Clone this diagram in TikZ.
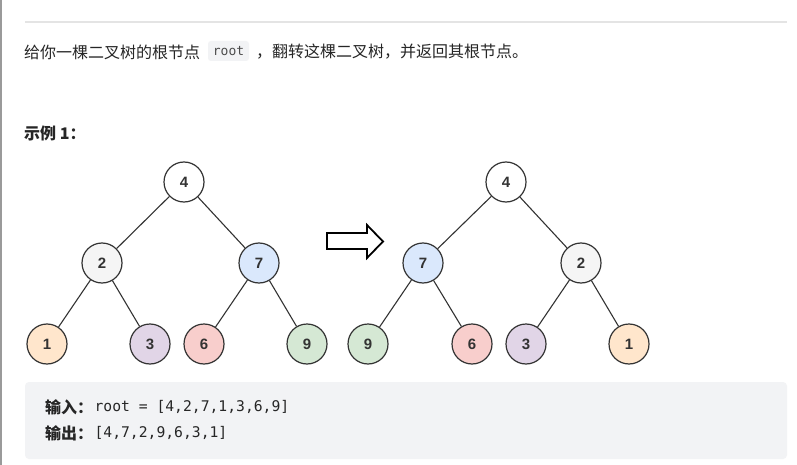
\documentclass[tikz,border=0pt]{standalone}
\usepackage{fontspec}
\setmainfont{Noto Sans CJK SC}
\newfontfamily\numfont{Liberation Sans}
\newfontfamily\codefont{DejaVu Sans Mono}
\definecolor{txt}{HTML}{262626}
\definecolor{edge}{HTML}{333333}
\definecolor{cwhite}{HTML}{FFFFFF}
\definecolor{cgray}{HTML}{F5F5F5}
\definecolor{cblue}{HTML}{DAE8FC}
\definecolor{corange}{HTML}{FFE6CC}
\definecolor{cpurple}{HTML}{E1D5E7}
\definecolor{cred}{HTML}{F8CECC}
\definecolor{cgreen}{HTML}{D5E8D4}
\definecolor{boxbg}{HTML}{F2F3F5}
\definecolor{rulegray}{HTML}{E4E4E4}
\definecolor{bordergray}{HTML}{9A9A9A}
\begin{document}
\begin{tikzpicture}[x=1pt,y=-1pt,
  tnode/.style={circle,draw=edge,line width=1.2pt,minimum size=40pt,inner sep=0pt,
    font=\numfont\bfseries\fontsize{15}{17}\selectfont,text=edge},
  tedge/.style={draw=edge,line width=1.1pt},
  body/.style={anchor=west,inner sep=0pt,text=txt,font=\fontsize{16}{19}\selectfont},
  codetxt/.style={anchor=west,inner sep=0pt,text=txt,font=\codefont\fontsize{14.7}{17}\selectfont}]
\useasboundingbox (0,0) rectangle (797,465);
\fill[white] (0,0) rectangle (797,465);
\fill[bordergray] (0,0) rectangle (2,465);
\draw[rulegray,line width=1.3pt] (25,22) -- (787,22);
% intro line
\node[body] (t1) at (24,52) {给你一棵二叉树的根节点};
\fill[boxbg,rounded corners=3pt] (208,41) rectangle (249,61);
\node[inner sep=0pt,text=black!70,font=\codefont\fontsize{13}{15}\selectfont] (code) at (228.5,51.5) {root};
\node[body] (t2) at (256,52) {，翻转这棵二叉树，并返回其根节点。};
\node[body,font=\bfseries\fontsize{16}{19}\selectfont] (ex) at (24,133) {示例 1：};
% left tree
\node[tnode,fill=cwhite] (a4) at (184,182) {4};
\node[tnode,fill=cgray] (a2) at (102,263) {2};
\node[tnode,fill=cblue] (a7) at (259,263) {7};
\node[tnode,fill=corange] (a1) at (47,344) {1};
\node[tnode,fill=cpurple] (a3) at (150,344) {3};
\node[tnode,fill=cred] (a6) at (204,344) {6};
\node[tnode,fill=cgreen] (a9) at (307,344) {9};
\draw[tedge] (a4) -- (a2);
\draw[tedge] (a4) -- (a7);
\draw[tedge] (a2) -- (a1);
\draw[tedge] (a2) -- (a3);
\draw[tedge] (a7) -- (a6);
\draw[tedge] (a7) -- (a9);
% arrow
\draw[black,line width=1.8pt,line join=miter] (327,233) -- (367,233) -- (367,225) -- (383,241.5) -- (367,258) -- (367,249) -- (327,249) -- cycle;
% right tree
\node[tnode,fill=cwhite] (b4) at (506,182) {4};
\node[tnode,fill=cblue] (b7) at (423,263) {7};
\node[tnode,fill=cgray] (b2) at (581,263) {2};
\node[tnode,fill=cgreen] (b9) at (368,344) {9};
\node[tnode,fill=cred] (b6) at (472,344) {6};
\node[tnode,fill=cpurple] (b3) at (526,344) {3};
\node[tnode,fill=corange] (b1) at (629,344) {1};
\draw[tedge] (b4) -- (b7);
\draw[tedge] (b4) -- (b2);
\draw[tedge] (b7) -- (b9);
\draw[tedge] (b7) -- (b6);
\draw[tedge] (b2) -- (b3);
\draw[tedge] (b2) -- (b1);
% example box
\fill[boxbg,rounded corners=4pt] (25,382) rectangle (787,459);
\node[body,font=\bfseries\fontsize{16}{19}\selectfont] (in) at (45,407) {输入：};
\node[codetxt] (inv) at ([xshift=1pt]in.east) {root = [4,2,7,1,3,6,9]};
\node[body,font=\bfseries\fontsize{16}{19}\selectfont] (out) at (45,433) {输出：};
\node[codetxt] (outv) at ([xshift=1pt]out.east) {[4,7,2,9,6,3,1]};
\end{tikzpicture}
\end{document}
